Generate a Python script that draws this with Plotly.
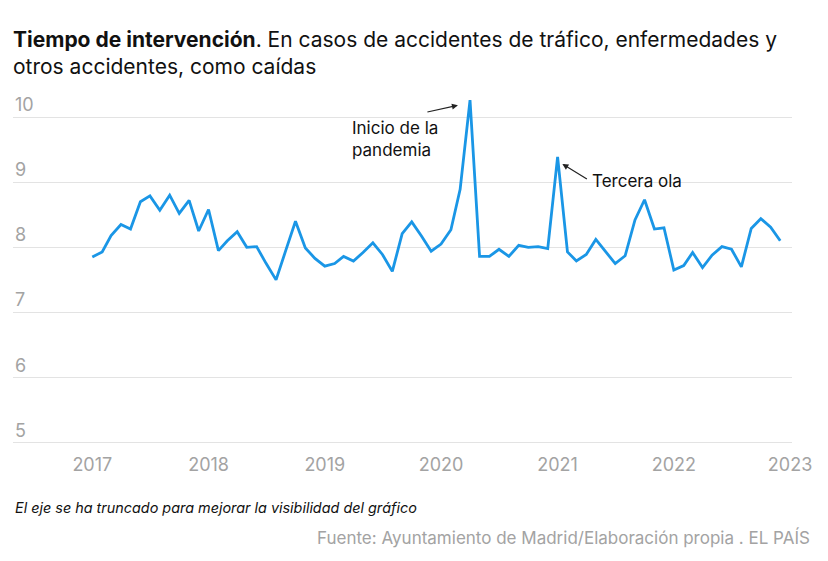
import plotly.graph_objects as go
import pandas as pd

# Monthly data Jan 2017 - Dec 2022
months = pd.date_range("2017-01-01", "2022-12-01", freq="MS")
values_2017 = [7.85, 7.93, 8.18, 8.35, 8.28, 8.70, 8.79, 8.57, 8.80, 8.52, 8.72, 8.25]
values_2018 = [8.58, 7.95, 8.10, 8.24, 8.00, 8.01, 7.75, 7.50, 7.96, 8.40, 7.99, 7.83]
values_2019 = [7.71, 7.75, 7.86, 7.79, 7.92, 8.07, 7.89, 7.63, 8.21, 8.39, 8.17, 7.94]
values_2020 = [8.05, 8.27, 8.89, 10.26, 7.86, 7.86, 7.97, 7.86, 8.03, 8.00, 8.01, 7.98]
values_2021 = [9.39, 7.93, 7.79, 7.89, 8.12, 7.93, 7.75, 7.87, 8.42, 8.73, 8.28, 8.30]
values_2022 = [7.65, 7.72, 7.92, 7.69, 7.88, 8.01, 7.97, 7.70, 8.29, 8.44, 8.31, 8.10]
values = values_2017 + values_2018 + values_2019 + values_2020 + values_2021 + values_2022

y_ticks = [5, 6, 7, 8, 9, 10]
x_ticks = ["2017", "2018", "2019", "2020", "2021", "2022", "2023"]

FONT = "Inter"
LINE = "#1a96e6"
GRAY = "#a3a3a3"
GRID = "#e3e3e3"

W, H = 820, 553  # page body has an 8px margin
ML, MR, MT, MB = 5, 36, 83, 117
PW, PH = W - ML - MR, H - MT - MB


def px_to_paper_x(px):
    return (px - ML) / PW


def px_to_paper_y(py):
    return (H - MB - py) / PH


fig = go.Figure()
fig.add_trace(go.Scatter(
    x=months, y=values, mode="lines",
    line=dict(color=LINE, width=2.8),
    hoverinfo="x+y", showlegend=False,
))

annotations = []
for t in y_ticks:
    annotations.append(dict(
        x=0, xref="paper", y=t, yref="y", text=str(t),
        xanchor="left", yanchor="bottom", yshift=0, showarrow=False,
        font=dict(family=FONT, size=18, color=GRAY),
    ))

annotations += [
    dict(x="2020-02-23", y=10.18, xref="x", yref="y", ax=-32, ay=7,
         text="", showarrow=True,
         arrowhead=2, arrowsize=1, arrowwidth=1.2, arrowcolor="#222"),
    dict(x="2019-03-20", y=10.01, xref="x", yref="y", text="Inicio de la<br>pandemia",
         xanchor="left", yanchor="top", align="left", showarrow=False,
         font=dict(family=FONT, size=17, color="#111")),
    dict(x="2021-01-16", y=9.28, xref="x", yref="y", ax=26, ay=16,
         text="", showarrow=True,
         arrowhead=2, arrowsize=1, arrowwidth=1.2, arrowcolor="#222"),
    dict(x="2021-04-13", y=9.02, xref="x", yref="y", text="Tercera ola",
         xanchor="left", yanchor="middle", align="left", showarrow=False,
         font=dict(family=FONT, size=17, color="#111")),
    dict(x=0, xref="paper", y=px_to_paper_y(500), yref="paper",
         text="<i>El eje se ha truncado para mejorar la visibilidad del gráfico</i>",
         xanchor="left", yanchor="middle", showarrow=False,
         font=dict(family=FONT, size=14.4, color="#111")),
    dict(x=px_to_paper_x(804), xref="paper", y=px_to_paper_y(529), yref="paper",
         text="Fuente: Ayuntamiento de Madrid/Elaboración propia . EL PAÍS",
         xanchor="right", yanchor="middle", showarrow=False,
         font=dict(family=FONT, size=17, color=GRAY)),
]

fig_title = ("<b>Tiempo de intervención</b>. En casos de accidentes de tráfico, enfermedades y"
             "<br>otros accidentes, como caídas")

fig.update_layout(
    width=W, height=H,
    margin=dict(l=ML, r=MR, t=MT, b=MB),
    paper_bgcolor="white", plot_bgcolor="white",
    title=dict(text=fig_title, x=5 / W, xanchor="left", xref="container",
               y=1 - 39 / H, yanchor="top", yref="container",
               font=dict(family=FONT, size=21, color="#111")),
    xaxis=dict(
        range=["2016-04-27", "2023-01-07"],
        tickvals=[f"{y}-01-01" for y in x_ticks], ticktext=x_ticks,
        showgrid=False, zeroline=False, showline=False, ticks="",
        tickfont=dict(family=FONT, size=18, color=GRAY),
        ticklabelstandoff=8,
        fixedrange=True,
    ),
    yaxis=dict(
        range=[4.98, 10.4], tickvals=y_ticks, showticklabels=False,
        showgrid=True, gridcolor=GRID, gridwidth=1.2, zeroline=False,
        showline=False, fixedrange=True,
    ),
    annotations=annotations,
)

fig.write_html("out.html")
